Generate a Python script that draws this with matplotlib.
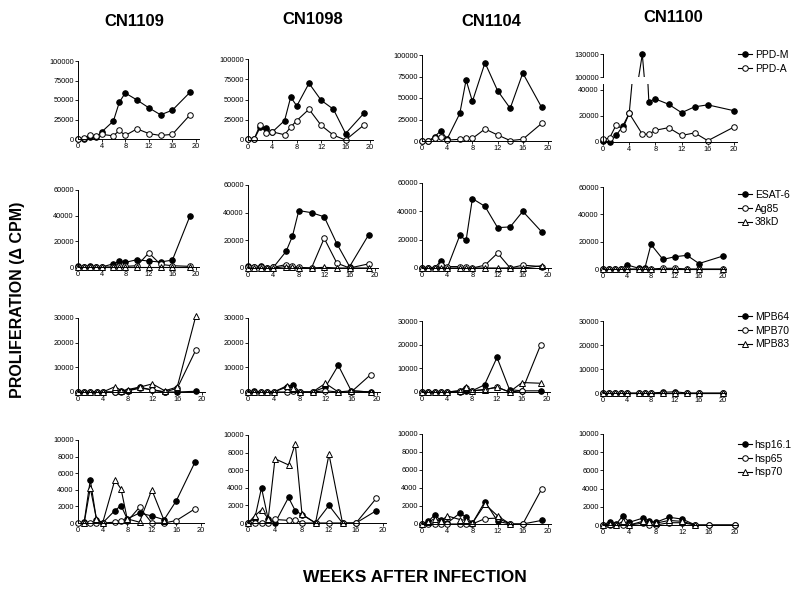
import numpy as np
import matplotlib
matplotlib.use('Agg')
import matplotlib.pyplot as plt

plt.rcParams['font.family'] = ['Liberation Sans', 'DejaVu Sans']

# Weeks after infection (CN1100 was sampled at week 20 instead of 19)
weeks = [0, 1, 2, 3, 4, 6, 7, 8, 10, 12, 14, 16, 19]
weeks_cn1100 = [0, 1, 2, 3, 4, 6, 7, 8, 10, 12, 14, 16, 20]

animals = ['CN1109', 'CN1098', 'CN1104', 'CN1100']

# Row 1: PPD (one list per animal, same order as animals)
ppd_m = [
    [0, 0, 3000, 2000, 9000, 23000, 47000, 59000, 50000, 40000, 31000, 37000, 60000],
    [1000, 1000, 15500, 15000, 10000, 24000, 53000, 42000, 70000, 49000, 38000, 8000, 33000],
    [0, 0, 5000, 12000, 2500, 32000, 71000, 46000, 91000, 58500, 38000, 79000, 39000],
    [1000, 0, 5000, 12000, 22000, 130000, 31000, 33000, 29000, 22500, 27000, 28500, 24000],
]
ppd_a = [
    [0, 1000, 5500, 4000, 6000, 4000, 11000, 4500, 13000, 7000, 4500, 6000, 31000],
    [1500, 1000, 19000, 8500, 10000, 6500, 16000, 24000, 38000, 18000, 6000, 0, 18500],
    [0, 0, 3000, 5000, 1000, 2000, 4000, 3000, 14000, 7000, 500, 2000, 20500],
    [2000, 3000, 13000, 10000, 22000, 6000, 6000, 9000, 11000, 5000, 7000, 1000, 11500],
]

# Row 2: secreted antigens
esat6 = [
    [500, 0, 1000, 0, 0, 2500, 4400, 3600, 5700, 4600, 3900, 5400, 40000],
    [1500, 1000, 1500, 0, 500, 12000, 23000, 41500, 40000, 37000, 17500, 1000, 24000],
    [0, 0, 0, 5000, 0, 23000, 19500, 49000, 43500, 28500, 29000, 40000, 25500],
    [0, 0, 0, 0, 3000, 500, 1000, 18000, 7000, 9000, 10000, 4000, 9500],
]
ag85 = [
    [0, 0, 0, 0, 0, 0, 500, 500, 1000, 11000, 2000, 1000, 500],
    [500, 500, 500, 0, 500, 2500, 1500, 500, 0, 21500, 3500, 0, 3000],
    [0, 0, 0, 2000, 1000, 1000, 500, 0, 2000, 10500, 0, 2000, 1000],
    [0, 0, 0, 0, 0, 0, 0, 0, 500, 500, 0, 0, 0],
]
kd38 = [
    [0, 0, 0, 0, 0, 0, 0, 0, 0, 0, 0, 0, 0],
    [0, 0, 0, 0, 0, 1000, 500, 0, 0, 500, 0, 0, 0],
    [0, 0, 0, 0, 0, 0, 0, 0, 0, 0, 0, 0, 1500],
    [0, 0, 0, 0, 0, 0, 0, 0, 0, 0, 0, 0, 0],
]

# Row 3: MPB antigens
mpb64 = [
    [0, 0, 0, 0, 0, 0, 500, 500, 2000, 700, 0, 0, 300],
    [0, 300, 0, 0, 0, 2000, 3000, 0, 0, 2000, 10800, 500, 0],
    [0, 0, 0, 0, 0, 0, 500, 500, 3000, 14600, 1000, 500, 500],
    [0, 0, 0, 0, 0, 0, 0, 0, 300, 500, 0, 0, 0],
]
mpb70 = [
    [0, 0, 0, 0, 0, 0, 0, 500, 1500, 1000, 0, 1500, 17000],
    [0, 0, 0, 0, 0, 0, 500, 0, 0, 500, 0, 0, 7000],
    [0, 0, 0, 0, 0, 500, 1500, 500, 1000, 2100, 0, 500, 20000],
    [0, 0, 0, 0, 0, 0, 0, 0, 0, 0, 0, 0, 0],
]
mpb83 = [
    [0, 0, 0, 0, 0, 2200, 500, 1000, 2000, 3300, 500, 2000, 30800],
    [0, 0, 0, 0, 0, 2500, 1500, 0, 0, 3500, 0, 500, 0],
    [0, 0, 0, 0, 0, 500, 2200, 500, 1000, 2000, 0, 4000, 3700],
    [0, 0, 0, 0, 0, 0, 0, 0, 0, 0, 0, 0, 0],
]

# Row 4: heat shock proteins
hsp16 = [
    [None, 100, 5200, 400, 0, 1500, 2100, 500, 1200, 850, 400, 2700, 7300],
    [0, 500, 4000, 400, 0, 2900, 1400, 950, 0, 2000, 0, 0, 1400],
    [0, 300, 1000, 400, 100, 1200, 800, 100, 2500, 300, 0, 0, 400],
    [0, 350, 100, 1000, 300, 750, 450, 300, 850, 650, 0, 0, 0],
]
hsp65 = [
    [0, 0, 0, 0, 0, 100, 300, 200, 1900, 0, 0, 300, 1700],
    [0, 0, 0, 0, 400, 300, 350, 0, 0, 0, 0, 0, 2800],
    [0, 0, 0, 0, 0, 0, 0, 0, 600, 650, 0, 0, 3900],
    [0, 0, 0, 0, 0, 200, 0, 0, 250, 250, 0, 0, 0],
]
hsp70 = [
    [None, 0, 4200, 500, 0, 5200, 4100, 500, 100, 4000, 300, None, None],
    [0, 800, 1500, 500, 7300, 6600, 9000, 1000, 0, 7800, 0, None, None],
    [0, 200, 600, 300, 900, 500, 400, 100, 2200, 900, 0, None, None],
    [0, 100, 0, 400, 0, 400, 300, 200, 500, 400, 0, None, None],
]

rows = [
    (['PPD-M', 'PPD-A'], [ppd_m, ppd_a], 100000, 25000),
    (['ESAT-6', 'Ag85', '38kD'], [esat6, ag85, kd38], 60000, 20000),
    (['MPB64', 'MPB70', 'MPB83'], [mpb64, mpb70, mpb83], 30000, 10000),
    (['hsp16.1', 'hsp65', 'hsp70'], [hsp16, hsp65, hsp70], 10000, 2000),
]

# marker style per position in a row: filled circle, open circle, open triangle
styles = [('o', 'black'), ('o', 'white'), ('^', 'white')]

# pixel boxes of each panel: x of week 0, x of week 20, y of 0, y of top tick
boxes = [
    [(78, 196, 139, 61), (248, 370, 140, 59), (422, 548, 141, 55), (603, 734, 142, 84)],
    [(78, 196, 267, 190), (248, 375, 268, 185), (422, 548, 268, 183), (603, 723, 269, 187)],
    [(78, 202, 392, 318), (248, 377, 392, 318), (422, 547, 392, 321), (603, 723, 393, 321)],
    [(78, 201, 523, 440), (248, 383, 523, 435), (422, 548, 524, 434), (603, 735, 525, 434)],
]
legend_pos = [(738, 50), (738, 190), (738, 312), (738, 440)]

W, H = 800, 592
fig = plt.figure(figsize=(8, 5.92), dpi=100)


def make_axes(px0, px20, py0, pytop):
    left = px0 / W
    right = (px0 + (px20 - px0) * 20.5 / 20) / W
    return fig.add_axes([left, 1 - py0 / H, right - left, (py0 - pytop) / H])


def style_axes(ax, ymin, ymax, yticks):
    ax.set_xlim(0, 20.5)
    ax.set_ylim(ymin, ymax)
    ax.set_xticks(range(0, 21, 4))
    ax.set_yticks(yticks)
    ax.spines[['top', 'right']].set_visible(False)
    for s in ['left', 'bottom']:
        ax.spines[s].set_linewidth(0.7)
    ax.tick_params(labelsize=5.3, length=2, width=0.6, pad=1)
    ax.patch.set_alpha(0)


def marker_kw(m, fc):
    return dict(color='black', lw=0.8, marker=m, ms=4, mfc=fc, mec='black', mew=0.7)


def draw(ax, x, ys, clip=False):
    handles = []
    x = np.array(x)
    for y, (m, fc) in zip(ys, styles):
        y = np.array(y, dtype=float)
        if clip:
            # line clipped to the axes, markers only where inside the range
            ax.plot(x, y, color='black', lw=0.8, clip_on=True)
            lo, hi = ax.get_ylim()
            inside = (y >= lo) & (y <= hi)
            h, = ax.plot(x[inside], y[inside], ls='None', clip_on=False,
                         **{k: v for k, v in marker_kw(m, fc).items() if k != 'lw'})
        else:
            h, = ax.plot(x, y, clip_on=False, **marker_kw(m, fc))
        handles.append(h)
    return handles


for r, (labels, series, ymax, step) in enumerate(rows):
    for c in range(4):
        x = weeks_cn1100 if c == 3 else weeks
        ys = [s[c] for s in series]
        px0, px20, py0, pytop = boxes[r][c]
        ax = make_axes(px0, px20, py0, pytop)
        if r == 0 and c == 3:
            # broken y axis for CN1100 PPD
            style_axes(ax, 0, 44500, [0, 20000, 40000])
            draw(ax, x, ys, clip=True)
            top = make_axes(px0, px20, 77.3, 54.3)
            style_axes(top, 100000, 130000, [100000, 130000])
            top.spines['bottom'].set_visible(False)
            top.tick_params(axis='x', bottom=False, labelbottom=False)
            draw(top, x, ys, clip=True)
            handles = [plt.Line2D([], [], **marker_kw(m, fc)) for m, fc in styles[:len(ys)]]
        else:
            style_axes(ax, 0, ymax, np.arange(0, ymax + 1, step))
            handles = draw(ax, x, ys)
        if c == 3:
            lx, ly = legend_pos[r]
            fig.legend(handles, labels, loc='upper left',
                       bbox_to_anchor=(lx / W, 1 - ly / H), frameon=False,
                       fontsize=7.5, handlelength=1.3, handletextpad=0.3,
                       labelspacing=0.35, borderpad=0, borderaxespad=0)

# column titles
title_pos = [(134, 22), (313, 19), (491, 22), (673, 17)]
for name, (tx, ty) in zip(animals, title_pos):
    fig.text(tx / W, 1 - ty / H, name, ha='center', va='center',
             fontsize=12, fontweight='bold')

fig.text(18 / W, 1 - 300 / H, 'PROLIFERATION (Δ CPM)', rotation=90,
         ha='center', va='center', fontsize=11.5, fontweight='bold')
fig.text(415 / W, 1 - 577 / H, 'WEEKS AFTER INFECTION', ha='center',
         va='center', fontsize=12.5, fontweight='bold')

fig.savefig('out.png', dpi=100)
